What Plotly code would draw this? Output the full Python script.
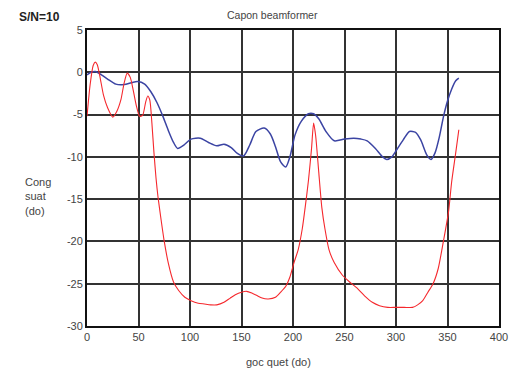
import plotly.graph_objects as go

blue_x = [0, 4, 8, 14, 20, 28, 36, 44, 49, 56, 62, 68, 74, 79, 84, 88, 94, 101, 110, 118, 126, 133, 140, 146,
          152, 158, 164, 172, 178, 183, 188, 193, 197, 202, 208, 215, 220, 225, 232, 240, 250, 259, 266, 272,
          280, 287, 291, 296, 301, 307, 313, 319, 324, 330, 334, 338, 342, 346, 350, 354, 358, 361]
blue_y = [-0.3, 0, 0.1, -0.3, -0.8, -1.4, -1.45, -1.2, -1.1, -1.4, -2.3, -3.6, -5.3, -6.9, -8.3, -9.0, -8.6,
          -7.9, -7.8, -8.3, -8.7, -8.5, -8.9, -9.6, -9.9, -8.6, -7.0, -6.6, -7.3, -8.8, -10.6, -11.2, -10.0,
          -7.4, -5.8, -4.9, -4.9, -5.5, -7.0, -8.1, -7.9, -7.8, -7.9, -8.1, -9.0, -10.0, -10.3, -10.0, -9.1,
          -8.0, -7.0, -7.1, -8.0, -9.8, -10.3, -9.5, -7.7, -5.3, -3.4, -2.0, -1.0, -0.7]

red_x = [0, 3, 6, 8, 10, 13, 16, 20, 25, 29, 33, 36, 39, 42, 45, 48, 51, 54, 57, 59, 61, 63, 65, 67, 69, 72,
         75, 79, 84, 89, 95, 101, 108, 114, 120, 126, 133, 139, 144, 150, 155, 160, 165, 170, 176, 183, 188,
         193, 197, 201, 205, 209, 212, 215, 218, 220, 222, 225, 228, 231, 235, 240, 248, 255, 262, 270, 277,
         284, 292, 300, 308, 316, 321, 326, 331, 336, 341, 346, 351, 354, 358, 361]
red_y = [-5.2, -1.5, 0.8, 1.2, 0.9, -0.8, -2.7, -4.2, -5.3, -4.6, -3.2, -1.3, -0.1, -0.6, -2.2, -4.0, -5.2,
         -5.1, -3.5, -2.8, -3.3, -6.0, -9.5, -12.5, -14.8, -17.5, -20.0, -22.6, -24.8, -25.8, -26.6, -27.0,
         -27.3, -27.4, -27.5, -27.5, -27.2, -26.7, -26.3, -26.0, -25.9, -26.1, -26.4, -26.7, -26.8, -26.6,
         -26.0, -25.3, -24.2, -22.5, -21.0, -18.5, -15.8, -12.8, -9.0, -6.0, -7.5, -11.8, -16.0, -18.5,
         -21.0, -22.5, -24.0, -24.8, -25.5, -26.5, -27.2, -27.6, -27.8, -27.8, -27.8, -27.8, -27.5, -27.0,
         -26.0, -25.0, -23.2, -20.0, -16.5, -13.0, -9.5, -6.8]

x_ticks = [0, 50, 100, 150, 200, 250, 300, 350, 400]
y_ticks = [5, 0, -5, -10, -15, -20, -25, -30]
y_tick_labels = ["5", "0", "-5", "-10", "-15", "-20", "-25", "-30"]

fig = go.Figure()
fig.add_trace(go.Scatter(x=blue_x, y=blue_y, mode="lines",
                         line=dict(color="#3b44a3", width=1.5, shape="spline", smoothing=0.7)))
fig.add_trace(go.Scatter(x=red_x, y=red_y, mode="lines",
                         line=dict(color="#f5282d", width=1.1, shape="spline", smoothing=0.6)))

font_family = "Liberation Sans, Arial, sans-serif"
fig.update_layout(
    width=516, height=370,
    margin=dict(l=87, r=8, t=30, b=44),
    paper_bgcolor="white", plot_bgcolor="white",
    showlegend=False,
    font=dict(family=font_family, size=11, color="#444"),
    xaxis=dict(range=[0, 400], tickvals=x_ticks, showgrid=True, gridcolor="#333", gridwidth=1.5,
               zeroline=False, showline=True, linecolor="#111", linewidth=2, mirror=True,
               ticks="", tickfont=dict(size=11, color="#444")),
    yaxis=dict(range=[-30, 5], tickvals=y_ticks, ticktext=y_tick_labels, showgrid=True,
               gridcolor="#333", gridwidth=1.5,
               zeroline=False, showline=True, linecolor="#111", linewidth=2, mirror=True,
               ticks="", tickfont=dict(size=11, color="#444")),
    annotations=[
        dict(text="Capon beamformer", x=277, y=15, xref="paper", yref="paper", showarrow=False,
             font=dict(size=10.5, color="#444"), xanchor="center", yanchor="middle"),
        dict(text="<b>S/N=10</b>", x=15, y=17, xref="paper", yref="paper", showarrow=False,
             font=dict(size=12, color="#222"), xanchor="left", yanchor="middle"),
        dict(text="Cong<br>suat<br>(do)", x=22, y=196, xref="paper", yref="paper", showarrow=False,
             font=dict(size=11, color="#444"), xanchor="left", yanchor="middle", align="left"),
        dict(text="goc quet (do)", x=283, y=362, xref="paper", yref="paper", showarrow=False,
             font=dict(size=11, color="#444"), xanchor="center", yanchor="middle"),
    ],
)

# convert pixel-placed annotations to paper coords
pw = 516 - 87 - 8
ph = 370 - 30 - 44
for a in fig.layout.annotations:
    px, py = a.x, a.y
    a.x = (px - 87) / pw
    a.y = 1 - (py - 30) / ph

fig.write_html("out.html", config={"displayModeBar": False},
               post_script="document.body.style.margin='0';document.body.style.overflow='hidden';")
